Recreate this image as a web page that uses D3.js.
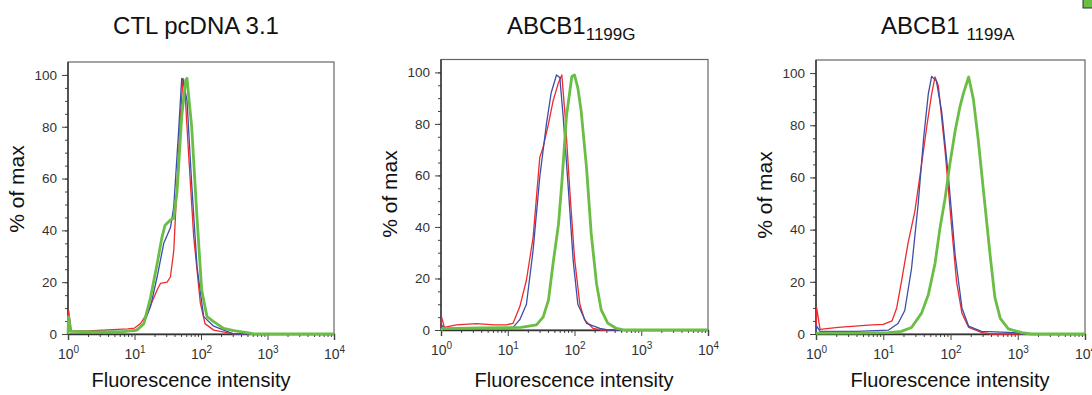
<!DOCTYPE html>
<html>
<head>
<meta charset="utf-8">
<script src="https://cdn.jsdelivr.net/npm/d3@7"></script>
<style>
  body { margin: 0; background: #fff; }
  svg { display: block; font-family: "Liberation Sans", Arial, sans-serif; }
</style>
</head>
<body>
<script>
// panel titles: main text + subscript
const titles = [["CTL pcDNA 3.1", ""], ["ABCB1", "1199G"], ["ABCB1 ", "1199A"]];
const yTicks = [0, 20, 40, 60, 80, 100];
const xDecades = [0, 1, 2, 3, 4];

// points are [log10 intensity, % of max]
const ctlRed = [[0,0],[0.01,9],[0.05,1],[0.3,1.2],[0.6,1.6],[0.9,2],[1.0,2.3],[1.09,4],[1.19,8],[1.29,14],[1.34,17],[1.39,19.5],[1.45,19.8],[1.49,20],[1.54,22],[1.59,32],[1.64,58],[1.69,84],[1.73,98.7],[1.76,93],[1.81,71],[1.89,37.6],[1.99,12],[2.06,4],[2.19,1.5],[2.39,0.5],[2.5,0],[4,0]];
const ctlBlue = [[0,0],[0.01,5],[0.05,1],[0.5,1],[0.9,1],[1.0,1.2],[1.14,4],[1.24,10.5],[1.34,22],[1.44,35],[1.54,41],[1.59,49],[1.66,77],[1.71,98.7],[1.73,98],[1.79,90],[1.86,58],[1.94,26],[2.04,6.7],[2.19,3],[2.39,1],[2.5,0],[4,0]];
const ctlGreen = [[0,0],[0.01,6.7],[0.04,1],[0.4,0.8],[0.8,0.8],[1.04,1.5],[1.14,4],[1.24,14],[1.34,27],[1.41,37],[1.46,42],[1.54,44],[1.59,44.7],[1.64,55],[1.71,84],[1.77,98],[1.79,98.7],[1.81,93],[1.86,80],[1.94,45],[2.01,17],[2.09,6.7],[2.19,4.8],[2.34,2.2],[2.49,1.3],[2.69,0.5],[2.8,0],[4,0]];

const g1199Red = [[0,0],[0.01,5],[0.05,1],[0.23,2],[0.53,2.5],[0.8,2],[0.98,2],[1.08,2.6],[1.18,9],[1.28,19.4],[1.38,36],[1.48,67],[1.53,71],[1.61,80],[1.68,89],[1.76,96],[1.81,99],[1.86,83],[1.93,54],[2.0,28],[2.08,10],[2.15,4],[2.28,0.6],[2.4,0],[4,0]];
const g1199Blue = [[0,0],[0.01,2],[0.05,0.5],[0.6,0.5],[1.08,1],[1.18,4],[1.28,10],[1.38,31],[1.48,59.5],[1.58,80],[1.65,92],[1.73,99],[1.78,98],[1.83,83],[1.91,54],[1.98,27],[2.05,10],[2.18,2.6],[2.38,0.6],[2.5,0],[4,0]];
const g1199Green = [[0,0],[0.02,0.5],[0.6,0.8],[1.2,1],[1.43,2],[1.53,5],[1.61,11.6],[1.68,26],[1.76,41],[1.81,57],[1.88,83],[1.96,98.4],[2.0,99],[2.05,94],[2.1,85],[2.18,63],[2.25,37.5],[2.33,18],[2.4,7.8],[2.5,2.6],[2.63,0.6],[2.75,0],[4,0]];

const a1199Red = [[0,0],[0.01,10],[0.06,1.8],[0.33,2.5],[0.58,3],[0.83,3.5],[1.0,3.7],[1.13,5],[1.2,10],[1.27,20],[1.37,35],[1.47,47],[1.57,65],[1.65,80],[1.72,92],[1.77,98.5],[1.82,95],[1.92,70],[2.02,40],[2.09,20],[2.17,8],[2.27,2.5],[2.46,0.6],[2.6,0],[4,0]];
const a1199Blue = [[0,0],[0.01,3],[0.06,1],[0.6,1],[1.08,1.5],[1.22,4],[1.32,9],[1.42,25],[1.52,50],[1.6,75],[1.67,92],[1.72,98.7],[1.79,97],[1.87,85],[1.97,60],[2.07,30],[2.17,10],[2.27,3],[2.46,1],[2.96,0.5],[3.05,0],[4,0]];
const a1199Green = [[0,0],[0.02,0.3],[0.6,0.3],[1.08,0.5],[1.27,1],[1.42,2.5],[1.57,8],[1.67,15],[1.77,27],[1.84,40],[1.92,52],[1.99,65],[2.07,78],[2.14,87],[2.19,92],[2.27,98.5],[2.34,90],[2.41,75],[2.51,50],[2.59,30],[2.66,14],[2.74,6],[2.86,2],[3.06,0.5],[3.2,0],[4,0]];

const seriesByPanel = [
  [ctlRed, ctlBlue, ctlGreen],
  [g1199Red, g1199Blue, g1199Green],
  [a1199Red, a1199Blue, a1199Green]
];
const colors = ["#ee2a2e", "#3b4ea8", "#6abd45"];
const widths = [1.3, 1.3, 2.8];

// panel frames (pixels)
const frames = [
  {left: 68, right: 334, top: 62, bottom: 334, titleX: 196, labelX: 191, yLabelY: 189},
  {left: 441, right: 708, top: 59.5, bottom: 330, titleX: 507, labelX: 574, yLabelY: 194},
  {left: 816, right: 1085, top: 60, bottom: 334, titleX: 881, labelX: 950, yLabelY: 195}
];

const svg = d3.select("body").append("svg")
  .attr("width", 1092)
  .attr("height", 395);

frames.forEach((f, i) => {
  const x = d3.scaleLog().domain([1, 1e4]).range([f.left, f.right]);
  const y = d3.scaleLinear().domain([0, 105]).range([f.bottom, f.top]);
  const g = svg.append("g");

  // frame
  g.append("rect")
    .attr("x", f.left).attr("y", f.top)
    .attr("width", f.right - f.left).attr("height", f.bottom - f.top)
    .attr("fill", "none").attr("stroke", "#666").attr("stroke-width", 1.2);

  // y axis: minor ticks every 5, labels every 20
  const yAxis = d3.axisLeft(y).tickValues(d3.range(0, 101, 5))
    .tickSize(3).tickFormat("");
  g.append("g").attr("transform", `translate(${f.left},0)`).call(yAxis)
    .call(a => a.select(".domain").remove())
    .call(a => a.selectAll("line").attr("stroke", "#444"));
  const yMajor = d3.axisLeft(y).tickValues(yTicks).tickSize(6).tickPadding(5);
  g.append("g").attr("transform", `translate(${f.left},0)`).call(yMajor)
    .call(a => a.select(".domain").remove())
    .call(a => a.selectAll("line").attr("stroke", "#444"))
    .call(a => a.selectAll("text").attr("font-size", 13.5).attr("fill", "#333")
      .attr("font-family", "Liberation Sans, Arial, sans-serif"));

  // x axis: log minor ticks + decades
  const minor = [];
  xDecades.slice(0, -1).forEach(d => {
    for (let k = 2; k <= 9; k++) minor.push(k * 10 ** d);
  });
  g.append("g").attr("transform", `translate(0,${f.bottom})`)
    .call(d3.axisBottom(x).tickValues(minor).tickSize(3).tickFormat(""))
    .call(a => a.select(".domain").remove())
    .call(a => a.selectAll("line").attr("stroke", "#444"));
  const xMajor = g.append("g").attr("transform", `translate(0,${f.bottom})`)
    .call(d3.axisBottom(x).tickValues(xDecades.map(d => 10 ** d)).tickSize(6).tickFormat(""))
    .call(a => a.select(".domain").attr("stroke", "#333").attr("stroke-width", 1.4))
    .call(a => a.selectAll("line").attr("stroke", "#444"));
  xMajor.selectAll(".tick").append("text")
    .attr("y", 25).attr("text-anchor", "middle")
    .attr("font-size", 14).attr("fill", "#333")
    .each(function(d) {
      const t = d3.select(this);
      t.append("tspan").text("10");
      t.append("tspan").attr("dy", -6).attr("font-size", 10).text(Math.round(Math.log10(d)));
    });

  // y axis line
  g.append("line")
    .attr("x1", f.left).attr("x2", f.left)
    .attr("y1", f.top).attr("y2", f.bottom)
    .attr("stroke", "#333").attr("stroke-width", 1.4);

  // curves
  const line = d3.line()
    .x(p => x(10 ** p[0]))
    .y(p => y(p[1]));
  seriesByPanel[i].forEach((s, j) => {
    g.append("path")
      .datum(s)
      .attr("d", line)
      .attr("fill", "none")
      .attr("stroke", colors[j])
      .attr("stroke-width", widths[j])
      .attr("stroke-linejoin", "round");
  });

  // titles
  const title = g.append("text")
    .attr("x", f.titleX).attr("y", 34)
    .attr("font-size", 24).attr("fill", "#111")
    .attr("text-anchor", i === 0 ? "middle" : "start");
  title.append("tspan").text(titles[i][0]);
  if (titles[i][1]) {
    title.append("tspan").attr("dy", 6).attr("font-size", 17).text(titles[i][1]);
  }

  // axis labels
  g.append("text")
    .attr("x", f.labelX).attr("y", 387)
    .attr("text-anchor", "middle").attr("font-size", 20).attr("fill", "#111")
    .text("Fluorescence intensity");
  g.append("text")
    .attr("transform", `translate(${f.left - 44},${f.yLabelY}) rotate(-90)`)
    .attr("text-anchor", "middle").attr("font-size", 21).attr("fill", "#111")
    .text("% of max");
});

// cut-off legend swatch at top right
svg.append("rect")
  .attr("x", 1083).attr("y", -2).attr("width", 12).attr("height", 10)
  .attr("fill", "#6abd45").attr("stroke", "#333").attr("stroke-width", 1);
</script>
</body>
</html>
